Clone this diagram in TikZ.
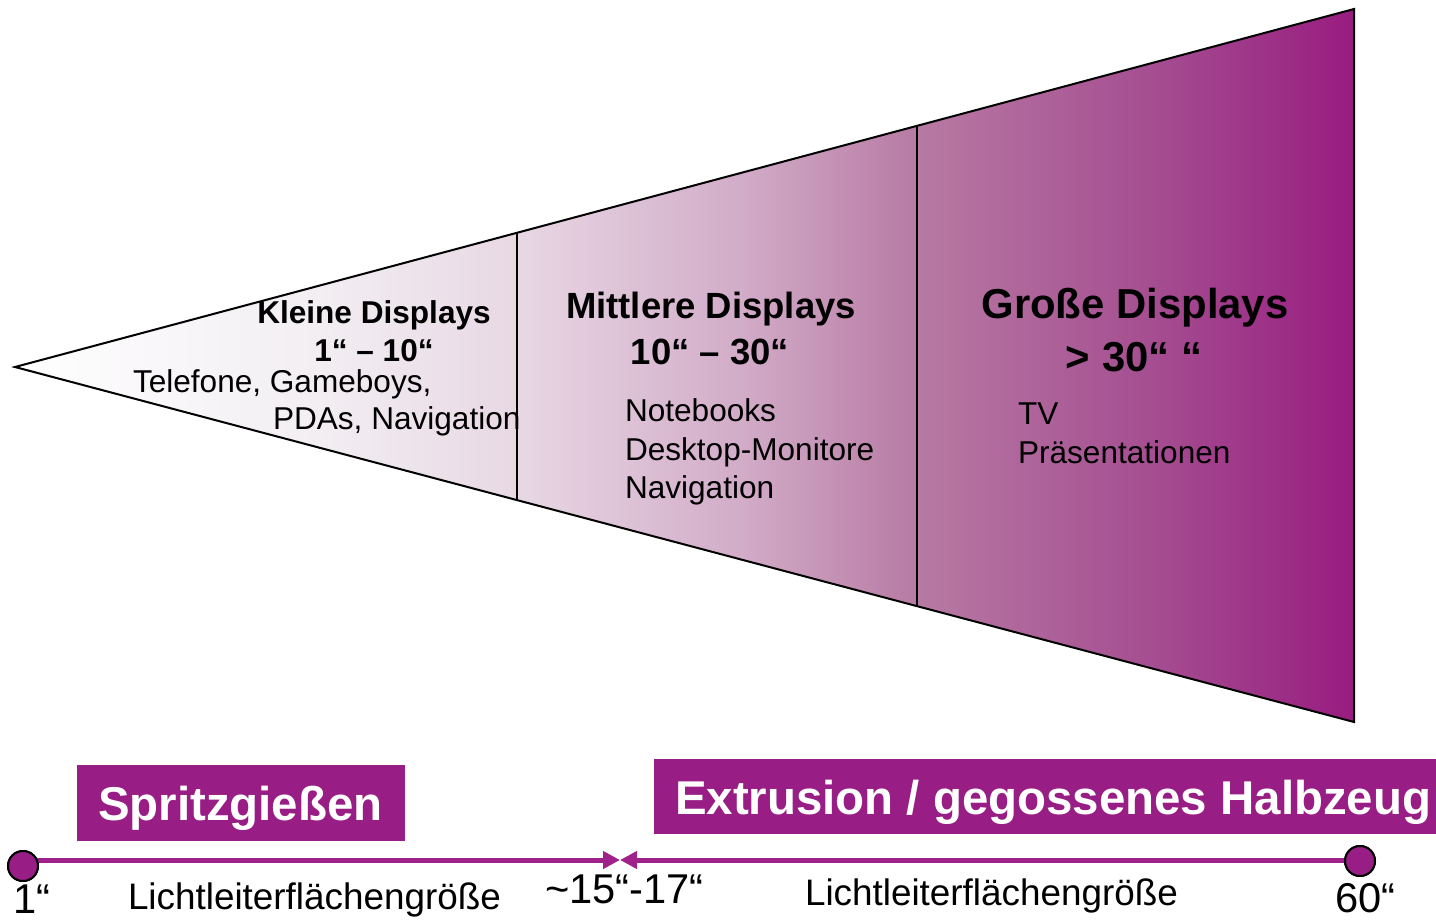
\documentclass[tikz,border=0pt]{standalone}
\usepackage{fontspec}
\setmainfont{Liberation Sans}
\usetikzlibrary{arrows.meta}

\definecolor{lila}{RGB}{152,29,132}
\definecolor{axislila}{RGB}{158,34,138}
\definecolor{fadeA}{RGB}{242,238,242}
\definecolor{fadeB}{RGB}{232,216,228}
\definecolor{fadeC}{RGB}{210,172,200}
\definecolor{fadeD}{RGB}{183,122,163}
\definecolor{fadeE}{RGB}{165,78,145}
\definecolor{fadeF}{RGB}{152,28,128}

% white at the tip, deep purple at the wide end (25bp..75bp span the shape)
\pgfdeclarehorizontalshading{displayfade}{100bp}{%
  color(0bp)=(white); color(25bp)=(white); color(36.4bp)=(fadeA);
  color(43.7bp)=(fadeB); color(52.1bp)=(fadeC); color(58.7bp)=(fadeD);
  color(67.4bp)=(fadeE); color(75bp)=(fadeF); color(100bp)=(fadeF)}

\tikzset{
  lbl/.style={inner sep=0pt, outer sep=0pt, text=black},
  small/.style={lbl, font=\fontsize{31.7}{38}\selectfont},
  smallbf/.style={lbl, font=\fontsize{31.7}{38}\selectfont\bfseries},
  midbf/.style={lbl, font=\fontsize{36.6}{44}\selectfont\bfseries},
  bigbf/.style={lbl, font=\fontsize{42}{50}\selectfont\bfseries},
  axislbl/.style={lbl, font=\fontsize{37}{44}\selectfont},
  axisnum/.style={lbl, font=\fontsize{41.8}{50}\selectfont},
  banner/.style={fill=lila, inner sep=0pt},
  bannertxt/.style={lbl, text=white, font=\fontsize{47.6}{56}\selectfont\bfseries},
  endpoint/.style={circle, fill=lila, draw=black, line width=2bp, minimum size=30bp, inner sep=0pt},
  axisline/.style={draw=axislila, line width=5bp},
  axistip/.style={-{Triangle[length=17bp, width=17bp]}},
}

\begin{document}
\begin{tikzpicture}[x=1bp, y=-1bp]
\useasboundingbox (0,0) rectangle (1436,919);

% the display-size wedge
\coordinate (tip) at (15,367);
\coordinate (tr) at (1354,9);
\coordinate (br) at (1354,722);
\shade[shading=displayfade] (tip) -- (tr) -- (br) -- cycle;
\draw[line width=2bp, line join=miter] (tip) -- (tr) -- (br) -- cycle;

% section borders
\coordinate (s1t) at (517,233);
\coordinate (s1b) at (517,500);
\coordinate (s2t) at (917,125);
\coordinate (s2b) at (917,606);
\draw[line width=1.5bp] (s1t) -- (s1b);
\draw[line width=1.5bp] (s2t) -- (s2b);

% small displays
\node[smallbf, anchor=base] (k1) at (374,323) {Kleine Displays};
\node[smallbf, anchor=base, text depth=0pt] (k2) at (374,361) {1“ – 10“};
\node[small, anchor=base west] (k3) at (133,392) {Telefone, Gameboys,};
\node[small, anchor=base west] (k4) at (273,429) {PDAs, Navigation};

% medium displays
\node[midbf, anchor=base] (m1) at (711,318) {Mittlere Displays};
\node[midbf, anchor=base] (m2) at (710,364) {10“ – 30“};
\node[small, anchor=base west] (m3) at (625,421) {Notebooks};
\node[small, anchor=base west] (m4) at (625,460) {Desktop-Monitore};
\node[small, anchor=base west] (m5) at (625,498) {Navigation};

% large displays
\node[bigbf, anchor=base] (g1) at (1135,318) {Große Displays};
\node[bigbf, anchor=base] (g2) at (1134,371) {> 30“ “};
\node[small, anchor=base west] (g3) at (1018,424) {TV};
\node[small, anchor=base west] (g4) at (1018,463) {Präsentationen};

% process banners
\fill[lila] (77,765) rectangle (405,841);
\node[bannertxt, anchor=base west] (spritz) at (98,820) {Spritzgießen};
\fill[lila] (654,759) rectangle (1436,834);
\node[bannertxt, anchor=base west] (extr) at (675,814) {Extrusion / gegossenes Halbzeug};

% size axis
\coordinate (meet) at (620,860);
\node[endpoint] (e1) at (23,866) {};
\node[endpoint] (e2) at (1360,861) {};
\draw[axisline, axistip] (e1.center |- meet) -- (meet);
\draw[axisline, axistip] (e2.center |- meet) -- (meet);
\node[endpoint] at (e1.center) {};
\node[endpoint] at (e2.center) {};

\node[axisnum, anchor=base west] (n1) at (13,913) {1“};
\node[axislbl, anchor=base west] (a1) at (128,909) {Lichtleiterflächengröße};
\node[axisnum, anchor=base west] (n2) at (545,903) {\char"7E 15“-17“};
\node[axislbl, anchor=base west] (a2) at (805,905) {Lichtleiterflächengröße};
\node[axisnum, anchor=base west] (n3) at (1335,912) {60“};
\end{tikzpicture}
\end{document}
